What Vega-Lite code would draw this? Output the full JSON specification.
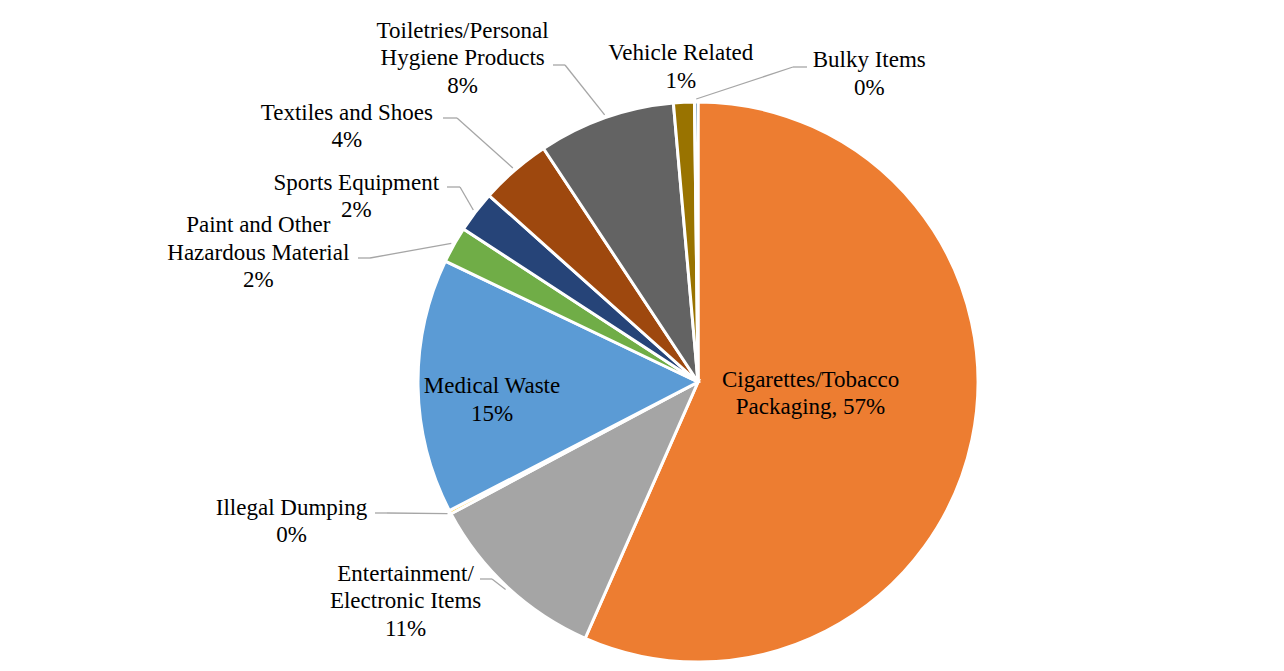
{
  "$schema": "https://vega.github.io/schema/vega-lite/v6.json",
  "width": 1172,
  "height": 578,
  "autosize": {"type": "none"},
  "padding": {"left": 112, "top": 93, "right": 0, "bottom": 0},
  "background": "white",
  "config": {
    "view": {"stroke": null},
    "font": "Liberation Serif",
    "text": {"font": "Liberation Serif", "fontSize": 23, "lineHeight": 27.5, "fill": "#000000", "align": "center", "baseline": "alphabetic", "lineBreak": "\n"}
  },
  "data": {
    "values": [
      {"order": 1, "category": "Cigarettes/Tobacco Packaging", "value": 56.6, "label": "Cigarettes/Tobacco\nPackaging, 57%"},
      {"order": 2, "category": "Entertainment/Electronic Items", "value": 10.6, "label": "Entertainment/\nElectronic Items\n11%"},
      {"order": 3, "category": "Illegal Dumping", "value": 0.2, "label": "Illegal Dumping\n0%"},
      {"order": 4, "category": "Medical Waste", "value": 14.7, "label": "Medical Waste\n15%"},
      {"order": 5, "category": "Paint and Other Hazardous Material", "value": 2.1, "label": "Paint and Other\nHazardous Material\n2%"},
      {"order": 6, "category": "Sports Equipment", "value": 2.4, "label": "Sports Equipment\n2%"},
      {"order": 7, "category": "Textiles and Shoes", "value": 4.1, "label": "Textiles and Shoes\n4%"},
      {"order": 8, "category": "Toiletries/Personal Hygiene Products", "value": 7.9, "label": "Toiletries/Personal\nHygiene Products\n8%"},
      {"order": 9, "category": "Vehicle Related", "value": 1.2, "label": "Vehicle Related\n1%"},
      {"order": 10, "category": "Bulky Items", "value": 0.2, "label": "Bulky Items\n0%"}
    ]
  },
  "transform": [
    {"stack": "value", "groupby": [], "sort": [{"field": "order", "order": "ascending"}], "as": ["v0", "v1"]},
    {"calculate": "(datum.v0 + datum.v1) / 2", "as": "mid"},
    {"calculate": "PI * (datum.v0 + datum.v1) / 100", "as": "ang"},
    {"calculate": "283 * sin(datum.ang)", "as": "sx"},
    {"calculate": "-283 * cos(datum.ang)", "as": "sy"}
  ],
  "layer": [
    {
      "mark": {"type": "arc", "outerRadius": 280, "stroke": "white", "strokeWidth": 3},
      "encoding": {
        "theta": {"field": "v0", "type": "quantitative", "stack": null, "scale": {"domain": [0, 100]}},
        "theta2": {"field": "v1"},
        "color": {
          "field": "category",
          "type": "nominal",
          "legend": null,
          "scale": {
            "domain": ["Cigarettes/Tobacco Packaging", "Entertainment/Electronic Items", "Illegal Dumping", "Medical Waste", "Paint and Other Hazardous Material", "Sports Equipment", "Textiles and Shoes", "Toiletries/Personal Hygiene Products", "Vehicle Related", "Bulky Items"],
            "range": ["#ED7D31", "#A5A5A5", "#FFC000", "#5B9BD5", "#70AD47", "#264478", "#9E480E", "#636363", "#997300", "#255E91"]
          }
        }
      }
    },
    {
      "transform": [{"filter": "indexof(['Bulky Items','Toiletries/Personal Hygiene Products','Textiles and Shoes','Sports Equipment','Paint and Other Hazardous Material','Illegal Dumping','Entertainment/Electronic Items'], datum.category) >= 0"},
        {"calculate": "datum.category == 'Bulky Items' ? 95 : datum.category == 'Toiletries/Personal Hygiene Products' ? -133 : datum.category == 'Textiles and Shoes' ? -241 : datum.category == 'Sports Equipment' ? -238 : datum.category == 'Paint and Other Hazardous Material' ? -328 : datum.category == 'Illegal Dumping' ? -311 : -206", "as": "bx"},
        {"calculate": "datum.category == 'Bulky Items' ? -315 : datum.category == 'Toiletries/Personal Hygiene Products' ? -317 : datum.category == 'Textiles and Shoes' ? -264 : datum.category == 'Sports Equipment' ? -195 : datum.category == 'Paint and Other Hazardous Material' ? -124 : datum.category == 'Illegal Dumping' ? 131 : 197", "as": "by"},
        {"calculate": "datum.category == 'Bulky Items' ? 109 : datum.category == 'Toiletries/Personal Hygiene Products' ? -145 : datum.category == 'Textiles and Shoes' ? -255 : datum.category == 'Sports Equipment' ? -251 : datum.category == 'Paint and Other Hazardous Material' ? -340 : datum.category == 'Illegal Dumping' ? -323 : -218", "as": "ex"}
      ],
      "layer": [
        {
          "mark": {"type": "rule", "color": "#A6A6A6", "strokeWidth": 1.3},
          "encoding": {
            "x": {"field": "sx", "type": "quantitative", "axis": null, "scale": {"domain": [-586, 586], "nice": false, "zero": false}},
            "y": {"field": "sy", "type": "quantitative", "axis": null, "scale": {"domain": [-289, 289], "reverse": true, "nice": false, "zero": false}},
            "x2": {"field": "bx"},
            "y2": {"field": "by"}
          }
        },
        {
          "mark": {"type": "rule", "color": "#A6A6A6", "strokeWidth": 1.3},
          "encoding": {
            "x": {"field": "bx", "type": "quantitative", "axis": null, "scale": {"domain": [-586, 586], "nice": false, "zero": false}},
            "y": {"field": "by", "type": "quantitative", "axis": null, "scale": {"domain": [-289, 289], "reverse": true, "nice": false, "zero": false}},
            "x2": {"field": "ex"}
          }
        }
      ]
    },
    {
      "transform": [{"filter": "datum.category == 'Cigarettes/Tobacco Packaging'"}],
      "mark": {"type": "text", "radius": 115, "dx": 0, "dy": -19},
      "encoding": {"theta": {"field": "mid", "type": "quantitative", "stack": null, "scale": {"domain": [0, 100]}}, "text": {"field": "label"}}
    },
    {
      "transform": [{"filter": "datum.category == 'Medical Waste'"}],
      "mark": {"type": "text", "radius": 210, "dx": 4, "dy": 8},
      "encoding": {"theta": {"field": "mid", "type": "quantitative", "stack": null, "scale": {"domain": [0, 100]}}, "text": {"field": "label"}}
    },
    {
      "transform": [{"filter": "datum.category == 'Entertainment/Electronic Items'"}],
      "mark": {"type": "text", "radius": 283, "dx": -100, "dy": -9},
      "encoding": {"theta": {"field": "mid", "type": "quantitative", "stack": null, "scale": {"domain": [0, 100]}}, "text": {"field": "label"}}
    },
    {
      "transform": [{"filter": "datum.category == 'Illegal Dumping'"}],
      "mark": {"type": "text", "radius": 283, "dx": -156, "dy": 1},
      "encoding": {"theta": {"field": "mid", "type": "quantitative", "stack": null, "scale": {"domain": [0, 100]}}, "text": {"field": "label"}}
    },
    {
      "transform": [{"filter": "datum.category == 'Paint and Other Hazardous Material'"}],
      "mark": {"type": "text", "radius": 283, "dx": -193, "dy": -11},
      "encoding": {"theta": {"field": "mid", "type": "quantitative", "stack": null, "scale": {"domain": [0, 100]}}, "text": {"field": "label"}}
    },
    {
      "transform": [{"filter": "datum.category == 'Sports Equipment'"}],
      "mark": {"type": "text", "radius": 283, "dx": -117, "dy": -20},
      "encoding": {"theta": {"field": "mid", "type": "quantitative", "stack": null, "scale": {"domain": [0, 100]}}, "text": {"field": "label"}}
    },
    {
      "transform": [{"filter": "datum.category == 'Textiles and Shoes'"}],
      "mark": {"type": "text", "radius": 283, "dx": -166, "dy": -48},
      "encoding": {"theta": {"field": "mid", "type": "quantitative", "stack": null, "scale": {"domain": [0, 100]}}, "text": {"field": "label"}}
    },
    {
      "transform": [{"filter": "datum.category == 'Toiletries/Personal Hygiene Products'"}],
      "mark": {"type": "text", "radius": 283, "dx": -142, "dy": -77},
      "encoding": {"theta": {"field": "mid", "type": "quantitative", "stack": null, "scale": {"domain": [0, 100]}}, "text": {"field": "label"}}
    },
    {
      "transform": [{"filter": "datum.category == 'Vehicle Related'"}],
      "mark": {"type": "text", "radius": 283, "dx": -3, "dy": -39},
      "encoding": {"theta": {"field": "mid", "type": "quantitative", "stack": null, "scale": {"domain": [0, 100]}}, "text": {"field": "label"}}
    },
    {
      "transform": [{"filter": "datum.category == 'Bulky Items'"}],
      "mark": {"type": "text", "radius": 283, "dx": 173, "dy": -32},
      "encoding": {"theta": {"field": "mid", "type": "quantitative", "stack": null, "scale": {"domain": [0, 100]}}, "text": {"field": "label"}}
    }
  ]
}
